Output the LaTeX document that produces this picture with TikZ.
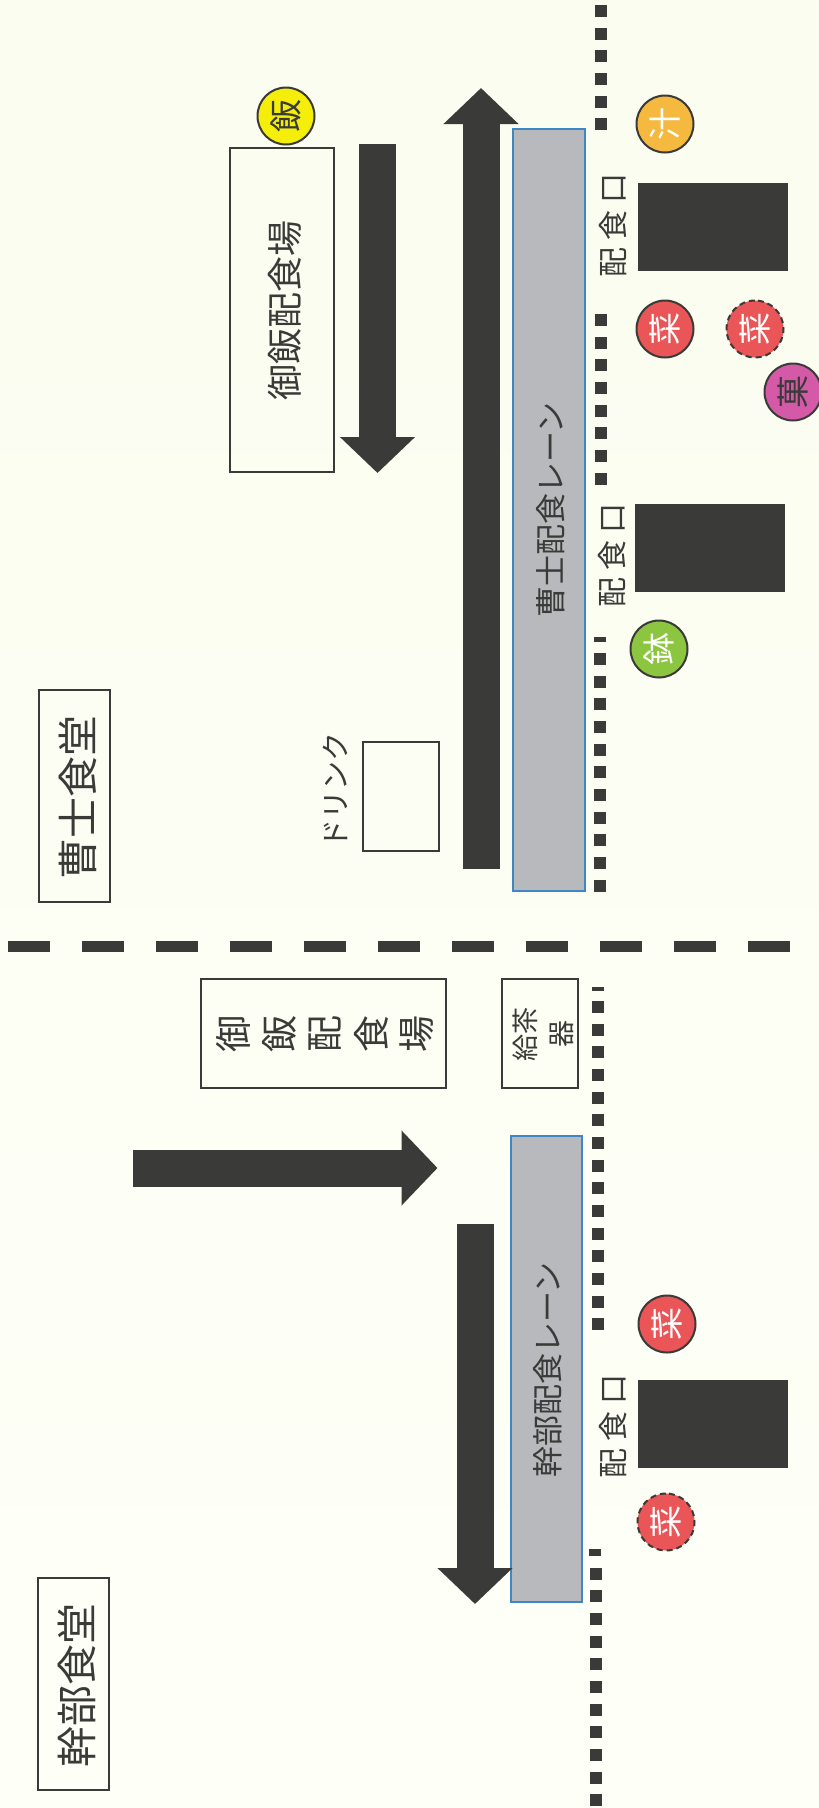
\documentclass[tikz,border=0pt]{standalone}
\usepackage{fontspec}
\usepackage{xcolor}
\usetikzlibrary{arrows.meta}
\newfontfamily\jpfont{Noto Sans CJK JP}
\definecolor{papertop}{HTML}{FBFDF0}
\definecolor{paperbot}{HTML}{FEFFF7}
\definecolor{inkdark}{HTML}{3A3A38}
\definecolor{lanefill}{HTML}{B8B9BC}
\definecolor{laneline}{HTML}{3F86C4}
\definecolor{dishyellow}{HTML}{F4EE0A}
\definecolor{dishorange}{HTML}{F5B93F}
\definecolor{dishred}{HTML}{EA5558}
\definecolor{dishgreen}{HTML}{8CC540}
\definecolor{dishpink}{HTML}{D45AA8}
\tikzset{
  roombox/.style={draw=inkdark, line width=2pt, inner sep=0pt},
  lanebox/.style={draw=laneline, fill=lanefill, line width=2pt, inner sep=0pt},
  hatchbox/.style={fill=inkdark, inner sep=0pt, minimum width=150pt, minimum height=88pt},
  dotsq/.style={fill=inkdark, inner sep=0pt, minimum width=12pt, minimum height=12pt},
  dashseg/.style={fill=inkdark, inner sep=0pt, minimum width=42pt, minimum height=11pt},
  dish/.style={circle, draw=inkdark, line width=2pt, inner sep=0pt, minimum size=57pt, font=\jpfont\fontsize{33}{33}\selectfont, rotate=90},
  dishdash/.style={dish, dash pattern=on 6pt off 4pt},
  sign/.style={font=\jpfont\fontsize{30}{32}\selectfont, text=inkdark, rotate=90},
  flow/.style={draw=inkdark, line width=37pt, -{Triangle[width=73pt,length=36pt,fill=inkdark]}}
}
\begin{document}
\begin{tikzpicture}[x=1pt,y=-1pt]
    \useasboundingbox (0,0) rectangle (819,1808);
    \shade[top color=papertop, bottom color=paperbot] (0,0) rectangle (819,1808);

    %dividing line
    \foreach \k in {0,...,10}
        \node[dashseg] (div\k) at (29+74*\k,946.5) {};

    %hatch lines
    \foreach \k in {0,...,5}
        \node[dotsq] (dota\k) at (600.5,11+22.67*\k) {};
    \foreach \k in {0,...,7}
        \node[dotsq] (dotb\k) at (600.5,320+22.67*\k) {};
    \node[dotsq, minimum height=5pt] (dotcc) at (600,639.5) {};
    \foreach \k in {0,...,10}
        \node[dotsq] (dotc\k) at (600,659+22.67*\k) {};
    \node[dotsq, minimum height=4pt] (dotdd) at (598,988.5) {};
    \foreach \k in {0,...,14}
        \node[dotsq] (dotd\k) at (598,1007+22.67*\k) {};
    \node[dotsq, minimum height=7pt] (dotee) at (595,1552.5) {};
    \foreach \k in {0,...,10}
        \node[dotsq] (dote\k) at (596,1573.5+22.67*\k) {};

    %rooms
    \node[roombox, minimum width=71pt, minimum height=212pt] (soshi) at (74,796) {};
    \node[sign, font=\jpfont\fontsize{41}{44}\selectfont] (soshilabel) at (78,797) {曹士食堂};
    \node[roombox, minimum width=71pt, minimum height=212pt] (kanbu) at (73.5,1684) {};
    \node[sign, font=\jpfont\fontsize{41}{44}\selectfont] (kanbulabel) at (77,1685) {幹部食堂};

    %rice and tea
    \node[roombox, minimum width=104pt, minimum height=324pt] (riceup) at (282,310) {};
    \node[sign, font=\jpfont\fontsize{36}{40}\selectfont] (riceuplabel) at (285,310) {御飯配食場};
    \node[roombox, minimum width=245pt, minimum height=109pt] (ricedown) at (323.5,1033.5) {};
    \foreach \k/\ch in {0/御,1/飯,2/配,3/食,4/場}
        \node[sign, font=\jpfont\fontsize{37}{40}\selectfont] (ricech\k) at (233+46*\k,1033.5) {\ch};
    \node[roombox, minimum width=76pt, minimum height=109pt] (tea) at (540,1033.5) {};
    \node[sign, align=center, font=\jpfont\fontsize{27}{36}\selectfont] (tealabel) at (543,1034) {給茶\\器};
    \node[roombox, minimum width=76pt, minimum height=109pt] (drinkbox) at (401,796.5) {};
    \node[sign, font=\jpfont\fontsize{29}{30}\selectfont] (drink) at (335,790.5) {ドリンク};

    %lanes
    \node[lanebox, minimum width=72pt, minimum height=762pt] (lanea) at (548.5,510) {};
    \node[sign, font=\jpfont\fontsize{31}{34}\selectfont] (lanealabel) at (551,510) {曹士配食レーン};
    \node[lanebox, minimum width=71pt, minimum height=466pt] (laneb) at (546.5,1369) {};
    \node[sign, font=\jpfont\fontsize{31}{34}\selectfont] (laneblabel) at (548,1370) {幹部配食レーン};

    %windows
    \node[hatchbox] (wina) at (713,227) {};
    \node[hatchbox] (winb) at (710,547.5) {};
    \node[hatchbox] (winc) at (713,1423.5) {};
    \node[sign] (signa) at (613,225) {配\hspace{7pt}食\hspace{7pt}口};
    \node[sign] (signb) at (612,555) {配\hspace{7pt}食\hspace{7pt}口};
    \node[sign] (signc) at (613,1426) {配\hspace{7pt}食\hspace{7pt}口};

    %dishes
    \node[dish, fill=dishyellow, text=inkdark] (rice) at (286,116) {飯};
    \node[dish, fill=dishorange, text=white] (soup) at (665,124) {汁};
    \node[dish, fill=dishred, text=white] (sidea) at (665,329) {菜};
    \node[dishdash, fill=dishred, text=white] (sideb) at (755,329) {菜};
    \node[dish, fill=dishpink, text=inkdark] (sweet) at (793,392) {菓};
    \node[dish, fill=dishgreen, text=white] (bowl) at (659,649) {鉢};
    \node[dish, fill=dishred, text=white] (sidec) at (667,1324) {菜};
    \node[dishdash, fill=dishred, text=white] (sided) at (666,1522) {菜};

    %flow arrows
    \coordinate (upa) at (377.5,144);
    \coordinate (upb) at (377.5,473);
    \coordinate (mida) at (481,869);
    \coordinate (midb) at (481,88);
    \coordinate (rta) at (133,1168);
    \coordinate (rtb) at (437.5,1168);
    \coordinate (lowa) at (475,1224);
    \coordinate (lowb) at (475,1604);
    \path[flow] (upa)--(upb);
    \path[flow] (mida)--(midb);
    \path[flow] (rta)--(rtb);
    \path[flow] (lowa)--(lowb);
\end{tikzpicture}
\end{document}
